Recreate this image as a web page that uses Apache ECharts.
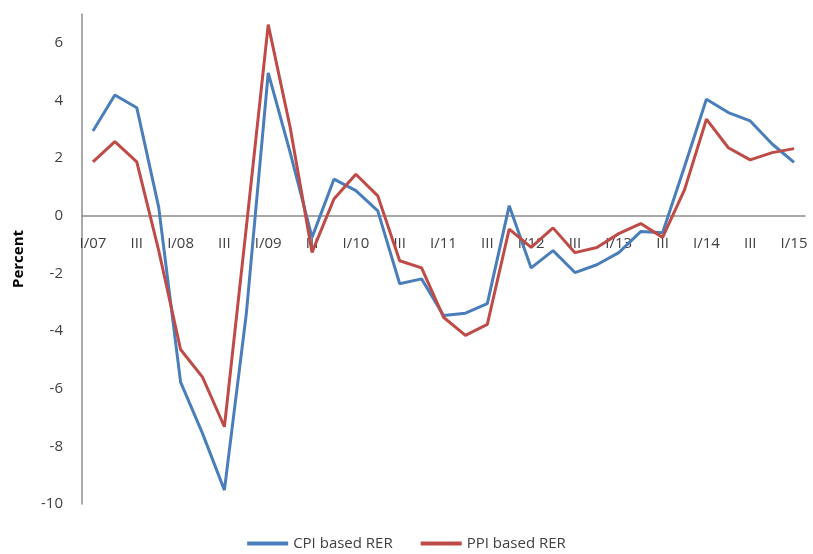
<!DOCTYPE html>
<html>
<head>
<meta charset="utf-8">
<script src="https://cdn.jsdelivr.net/npm/echarts@6/dist/echarts.min.js"></script>
<style>
  html, body { margin: 0; padding: 0; background: #fff; }
  #chart { width: 813px; height: 554px; }
</style>
</head>
<body>
<div id="chart"></div>
<script>
// Quarterly labels, 2007 Q1 through 2015 Q1
const quarters = [
  'I/07', 'II', 'III', 'IV',
  'I/08', 'II', 'III', 'IV',
  'I/09', 'II', 'III', 'IV',
  'I/10', 'II', 'III', 'IV',
  'I/11', 'II', 'III', 'IV',
  'I/12', 'II', 'III', 'IV',
  'I/13', 'II', 'III', 'IV',
  'I/14', 'II', 'III', 'IV',
  'I/15'
];

// Real exchange rate changes, percent
const cpiRER = [
  2.94, 4.19, 3.75, 0.3, -5.77, -7.55, -9.52, -3.4, 4.96, 2.2,
  -0.75, 1.27, 0.87, 0.17, -2.36, -2.19, -3.46, -3.38, -3.05, 0.35,
  -1.81, -1.21, -1.97, -1.7, -1.28, -0.55, -0.59, 1.7, 4.04, 3.58,
  3.29, 2.49, 1.85
];
const ppiRER = [
  1.87, 2.57, 1.87, -1.2, -4.64, -5.6, -7.32, -0.4, 6.63, 3.07,
  -1.27, 0.58, 1.44, 0.69, -1.56, -1.81, -3.52, -4.15, -3.77, -0.46,
  -1.1, -0.42, -1.28, -1.1, -0.62, -0.27, -0.75, 0.9, 3.35, 2.36,
  1.94, 2.19, 2.33
];

const yTicks = { min: -10, max: 7, step: 2 };

const font = '"Open Sans", "Liberation Sans", sans-serif';
const textColor = '#404040';
const axisColor = '#8c8c8c';

const gridTop = 14;
const gridBottom = 50;
const chartHeight = 554;
const plotHeight = chartHeight - gridTop - gridBottom;
// Distance from the bottom of the plot up to the zero line, so the
// category axis (line and labels) sits on y = 0
const zeroOffset = plotHeight * (0 - yTicks.min) / (yTicks.max - yTicks.min);

const chart = echarts.init(document.getElementById('chart'));
chart.setOption({
  animation: false,
  grid: { left: 82, right: 8, top: gridTop, bottom: gridBottom, containLabel: false },
  legend: {
    top: 536,
    left: 'center',
    padding: 0,
    icon: 'rect',
    itemWidth: 41,
    itemHeight: 4,
    itemGap: 28,
    textStyle: { fontFamily: font, fontSize: 15, color: textColor },
    data: ['CPI based RER', 'PPI based RER']
  },
  xAxis: {
    type: 'category',
    data: quarters,
    boundaryGap: true,
    position: 'bottom',
    offset: -zeroOffset,
    axisLine: { onZero: false, lineStyle: { color: axisColor, width: 1.5 } },
    axisTick: { show: false },
    splitLine: { show: false },
    axisLabel: {
      interval: 1,
      margin: 20,
      fontFamily: font,
      fontSize: 15,
      color: textColor
    }
  },
  yAxis: {
    type: 'value',
    min: yTicks.min,
    max: yTicks.max,
    interval: yTicks.step,
    name: 'Percent',
    nameLocation: 'middle',
    nameRotate: 90,
    nameGap: 56,
    nameTextStyle: { fontFamily: font, fontSize: 15, fontWeight: 'bold', color: '#000' },
    axisLine: { show: true, lineStyle: { color: axisColor, width: 1.5 } },
    axisTick: { show: false },
    splitLine: { show: false },
    axisLabel: {
      showMaxLabel: false,
      margin: 19,
      fontFamily: font,
      fontSize: 15,
      color: textColor
    }
  },
  series: [
    {
      name: 'CPI based RER',
      type: 'line',
      data: cpiRER,
      symbol: 'none',
      lineStyle: { color: '#4a7ebb', width: 3 },
      itemStyle: { color: '#4a7ebb' }
    },
    {
      name: 'PPI based RER',
      type: 'line',
      data: ppiRER,
      symbol: 'none',
      lineStyle: { color: '#be4b48', width: 3 },
      itemStyle: { color: '#be4b48' }
    }
  ]
});
</script>
</body>
</html>
